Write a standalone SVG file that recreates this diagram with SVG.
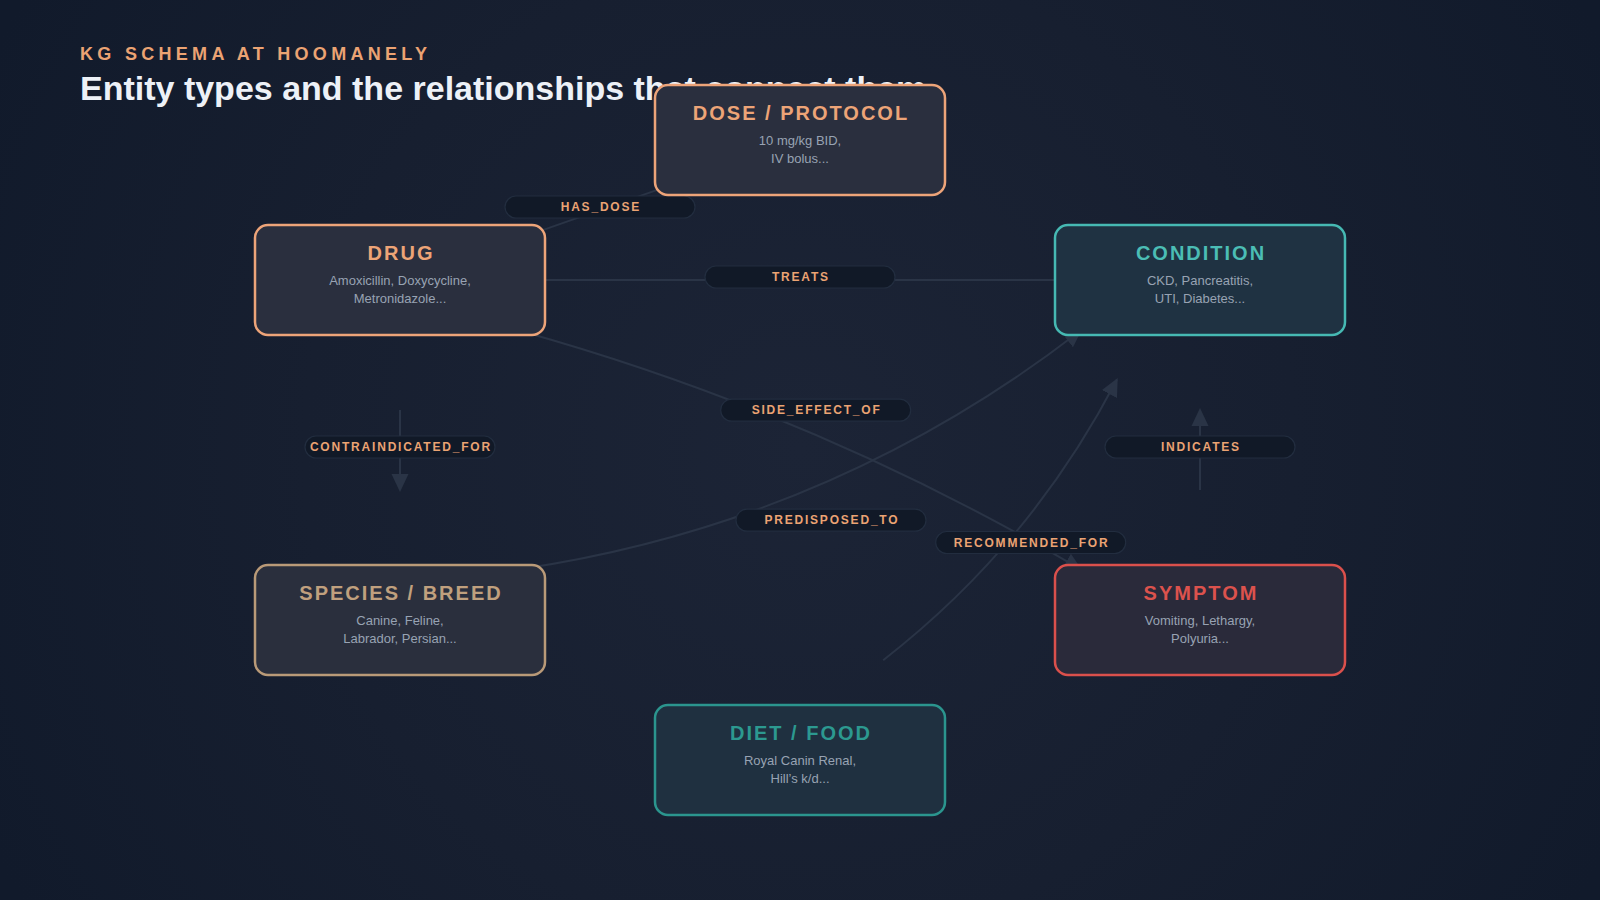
<svg xmlns="http://www.w3.org/2000/svg" width="1600" height="900" viewBox="0 0 1600 900">
  <defs>
    <radialGradient id="bg" cx="800" cy="450" r="900" gradientUnits="userSpaceOnUse">
      <stop offset="0" stop-color="#1c2436"/>
      <stop offset="0.55" stop-color="#171f30"/>
      <stop offset="1" stop-color="#111a2b"/>
    </radialGradient>
    <marker id="arrow" markerUnits="userSpaceOnUse" markerWidth="18" markerHeight="18" viewBox="0 0 18 18" refX="16" refY="9" orient="auto">
      <path d="M0,0.5 L18,9 L0,17.5 z" fill="#2a3446"/>
    </marker>
    <style>
      .kicker { font-family: "Liberation Sans", Arial, sans-serif; font-weight: 700; font-size: 18px; letter-spacing: 4.3px; fill: #eba373; }
      .title { font-family: "Liberation Sans", Arial, sans-serif; font-weight: 700; font-size: 34px; fill: #edf1f7; }
      .edge { fill: none; stroke: #2a3446; stroke-width: 2; }
      .pill { fill: #111927; stroke: #222d3f; stroke-width: 1.2; }
      .plabel { font-family: "Liberation Sans", Arial, sans-serif; font-weight: 700; font-size: 12px; letter-spacing: 1.8px; fill: #eba373; text-anchor: middle; }
      .box { stroke-width: 2.5; }
      .ntitle { font-family: "Liberation Sans", Arial, sans-serif; font-weight: 700; font-size: 20px; letter-spacing: 2px; text-anchor: middle; }
      .nsub { font-family: "Liberation Sans", Arial, sans-serif; font-size: 13px; fill: #98a3b3; text-anchor: middle; }
    </style>
  </defs>

  <rect x="0" y="0" width="1600" height="900" fill="url(#bg)"/>

  <g id="header">
    <text class="kicker" x="80" y="60">KG SCHEMA AT HOOMANELY</text>
    <text class="title" x="80" y="100">Entity types and the relationships that connect them</text>
  </g>

  <g id="connectors">
    <path id="e-has-dose" class="edge" d="M522.7,237.1 L677.3,182.9" marker-end="url(#arrow)"/>
    <path id="e-treats" class="edge" d="M530,280 L1070,280" marker-end="url(#arrow)"/>
    <path id="e-side-effect" class="edge" d="M519.6,330.8 Q815.7,413.2 1080.4,569.2" marker-end="url(#arrow)"/>
    <path id="e-contra" class="edge" d="M400,410 L400,490" marker-end="url(#arrow)"/>
    <path id="e-predisposed" class="edge" d="M519.6,569.2 Q831,523.2 1080.4,330.8" marker-end="url(#arrow)"/>
    <path id="e-recommended" class="edge" d="M883.2,660.2 Q1030.7,545.5 1116.8,379.8" marker-end="url(#arrow)"/>
    <path id="e-indicates" class="edge" d="M1200,490 L1200,410" marker-end="url(#arrow)"/>
  </g>

  <g id="edge-labels">
    <g id="l-has-dose">
      <rect class="pill" x="505" y="196" width="190" height="22" rx="11"/>
      <text class="plabel" x="600.9" y="211">HAS_DOSE</text>
    </g>
    <g id="l-treats">
      <rect class="pill" x="705" y="266" width="190" height="22" rx="11"/>
      <text class="plabel" x="800.9" y="281">TREATS</text>
    </g>
    <g id="l-side-effect">
      <rect class="pill" x="720.7" y="399.2" width="190" height="22" rx="11"/>
      <text class="plabel" x="816.6" y="414.2">SIDE_EFFECT_OF</text>
    </g>
    <g id="l-contra">
      <rect class="pill" x="305" y="436" width="190" height="22" rx="11"/>
      <text class="plabel" x="400.9" y="451">CONTRAINDICATED_FOR</text>
    </g>
    <g id="l-predisposed">
      <rect class="pill" x="736" y="509.2" width="190" height="22" rx="11"/>
      <text class="plabel" x="831.9" y="524.2">PREDISPOSED_TO</text>
    </g>
    <g id="l-recommended">
      <rect class="pill" x="935.7" y="531.5" width="190" height="22" rx="11"/>
      <text class="plabel" x="1031.6" y="546.5">RECOMMENDED_FOR</text>
    </g>
    <g id="l-indicates">
      <rect class="pill" x="1105" y="436" width="190" height="22" rx="11"/>
      <text class="plabel" x="1200.9" y="451">INDICATES</text>
    </g>
  </g>

  <g id="node-dose">
    <rect class="box" x="655" y="85" width="290" height="110" rx="13" fill="#2a2f3e" stroke="#eda479"/>
    <text class="ntitle" x="801" y="120" fill="#eda477">DOSE / PROTOCOL</text>
    <text class="nsub" x="800" y="144.5">10 mg/kg BID,</text>
    <text class="nsub" x="800" y="162.5">IV bolus...</text>
  </g>

  <g id="node-drug">
    <rect class="box" x="255" y="225" width="290" height="110" rx="13" fill="#2a2f3e" stroke="#eda479"/>
    <text class="ntitle" x="401" y="260" fill="#eda477">DRUG</text>
    <text class="nsub" x="400" y="284.5">Amoxicillin, Doxycycline,</text>
    <text class="nsub" x="400" y="302.5">Metronidazole...</text>
  </g>

  <g id="node-condition">
    <rect class="box" x="1055" y="225" width="290" height="110" rx="13" fill="#1f3242" stroke="#46b9b3"/>
    <text class="ntitle" x="1201" y="260" fill="#4bbdb5">CONDITION</text>
    <text class="nsub" x="1200" y="284.5">CKD, Pancreatitis,</text>
    <text class="nsub" x="1200" y="302.5">UTI, Diabetes...</text>
  </g>

  <g id="node-species">
    <rect class="box" x="255" y="565" width="290" height="110" rx="13" fill="#2a2f3d" stroke="#b99a78"/>
    <text class="ntitle" x="401" y="600" fill="#c0a07e">SPECIES / BREED</text>
    <text class="nsub" x="400" y="624.5">Canine, Feline,</text>
    <text class="nsub" x="400" y="642.5">Labrador, Persian...</text>
  </g>

  <g id="node-symptom">
    <rect class="box" x="1055" y="565" width="290" height="110" rx="13" fill="#2a2a3a" stroke="#da504c"/>
    <text class="ntitle" x="1201" y="600" fill="#dc524d">SYMPTOM</text>
    <text class="nsub" x="1200" y="624.5">Vomiting, Lethargy,</text>
    <text class="nsub" x="1200" y="642.5">Polyuria...</text>
  </g>

  <g id="node-diet">
    <rect class="box" x="655" y="705" width="290" height="110" rx="13" fill="#1f3040" stroke="#2b958e"/>
    <text class="ntitle" x="801" y="740" fill="#2c9990">DIET / FOOD</text>
    <text class="nsub" x="800" y="764.5">Royal Canin Renal,</text>
    <text class="nsub" x="800" y="782.5">Hill’s k/d...</text>
  </g>
</svg>
